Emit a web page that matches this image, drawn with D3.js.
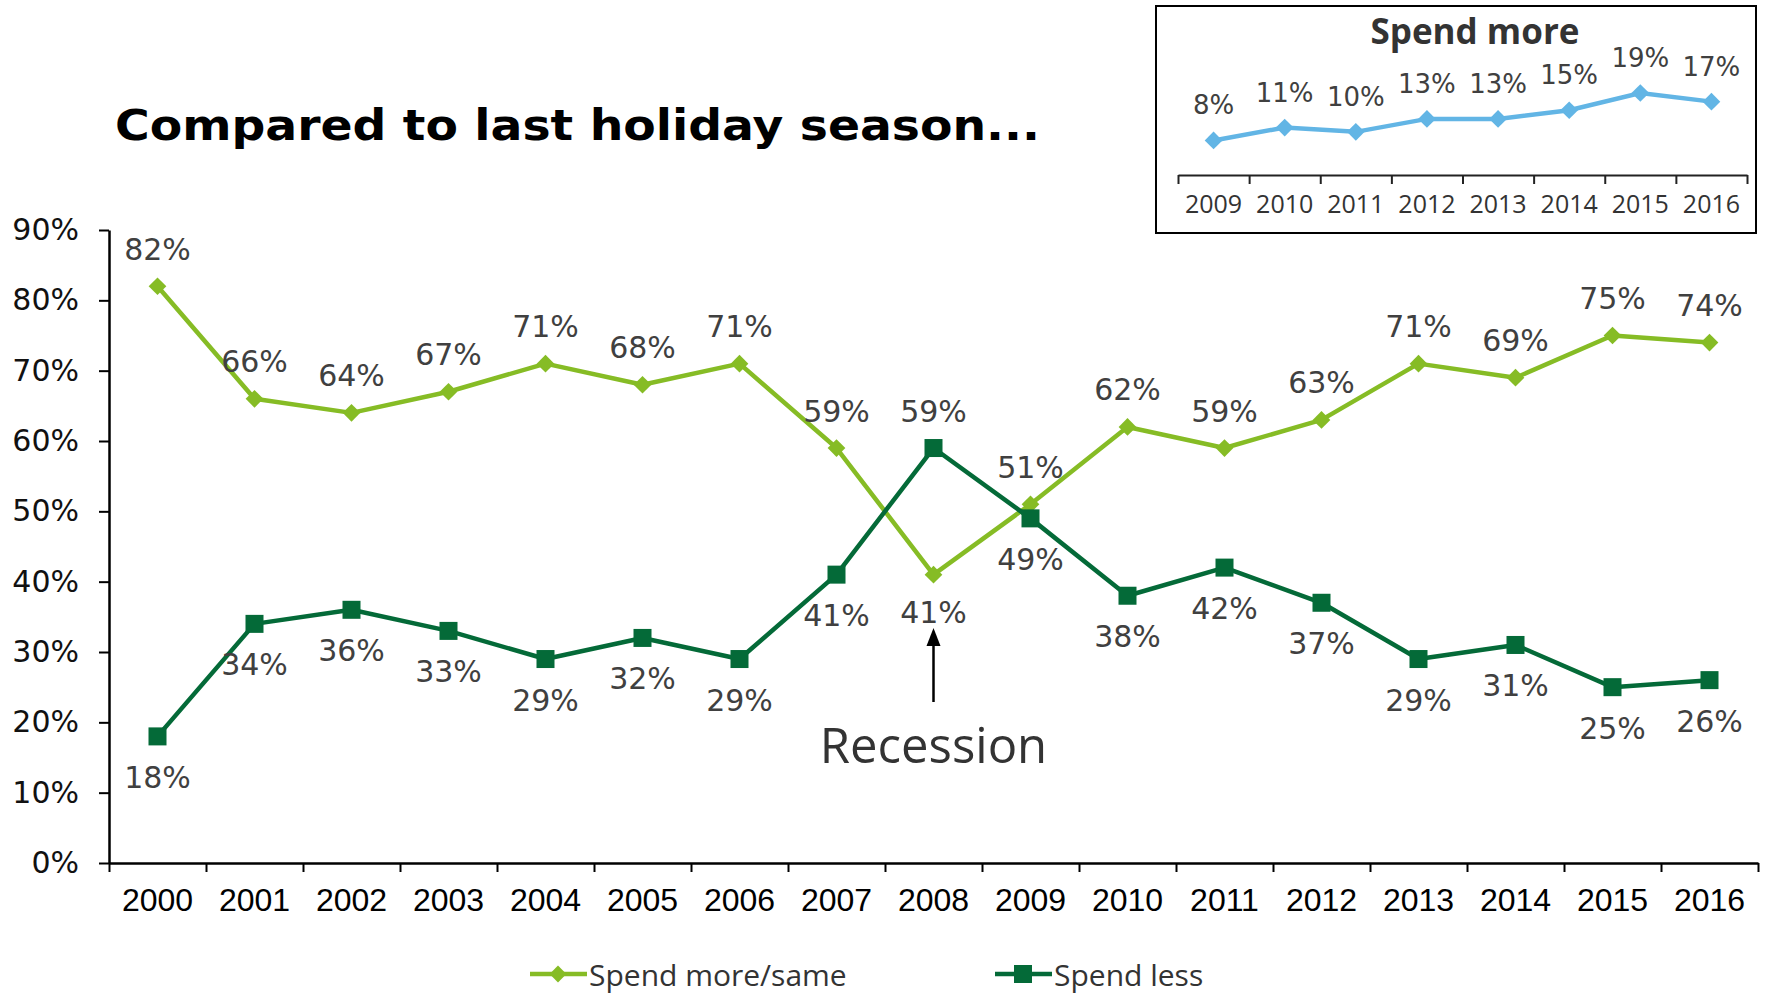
<!DOCTYPE html>
<html>
<head>
<meta charset="utf-8">
<script src="https://cdn.jsdelivr.net/npm/d3@7"></script>
<style>
  body { margin: 0; background: #fff; }
  svg { display: block; }
</style>
</head>
<body>
<script>
const years = ["2000","2001","2002","2003","2004","2005","2006","2007","2008","2009","2010","2011","2012","2013","2014","2015","2016"];
const spendMoreSame = [82, 66, 64, 67, 71, 68, 71, 59, 41, 51, 62, 59, 63, 71, 69, 75, 74];
const spendLess = [18, 34, 36, 33, 29, 32, 29, 41, 59, 49, 38, 42, 37, 29, 31, 25, 26];
// which labels go on the other side of the point
const moreBelow = ["2008"];
const lessAbove = ["2008"];

const insetYears = ["2009","2010","2011","2012","2013","2014","2015","2016"];
const spendMore = [8, 11, 10, 13, 13, 15, 19, 17];

const yTicks = [0, 10, 20, 30, 40, 50, 60, 70, 80, 90];

const W = 1765, H = 997;
const lightGreen = "#86BC25", darkGreen = "#046A38", blue = "#62B5E5";

const svg = d3.select("body").append("svg").attr("width", W).attr("height", H);

// title
svg.append("text")
  .attr("x", 115).attr("y", 140)
  .attr("font-family", "DejaVu Sans").attr("font-weight", "bold")
  .attr("font-size", 42).attr("fill", "#000")
  .attr("textLength", 925).attr("lengthAdjust", "spacingAndGlyphs")
  .text("Compared to last holiday season...");

// main chart
const plotLeft = 109, plotRight = 1758, plotTop = 230, plotBottom = 863;

const x = d3.scaleBand().domain(years).range([plotLeft, plotRight]);
const xEdge = d3.scaleLinear().domain([0, years.length]).range([plotLeft, plotRight]);
const y = d3.scaleLinear().domain([0, 90]).range([plotBottom, plotTop]);
const cx = i => x(years[i]) + x.bandwidth() / 2;

const yAxis = svg.append("g")
  .attr("transform", `translate(${plotLeft},0)`)
  .call(d3.axisLeft(y).tickValues(yTicks).tickFormat(d => d + "%").tickSize(10).tickSizeOuter(0));
yAxis.select(".domain").attr("stroke", "#000").attr("stroke-width", 2.5);
yAxis.selectAll(".tick line").attr("stroke", "#000").attr("stroke-width", 2);
yAxis.selectAll(".tick text")
  .attr("x", -30)
  .attr("font-family", "DejaVu Sans").attr("font-size", 30).attr("fill", "#111");

const xTicks = svg.append("g")
  .attr("transform", `translate(0,${plotBottom})`)
  .call(d3.axisBottom(xEdge).tickValues(d3.range(years.length + 1)).tickFormat("").tickSize(9).tickSizeOuter(0));
xTicks.select(".domain").attr("stroke", "#000").attr("stroke-width", 2.5);
xTicks.selectAll(".tick line").attr("stroke", "#000").attr("stroke-width", 2);

const xAxis = svg.append("g")
  .attr("transform", `translate(0,${plotBottom})`)
  .call(d3.axisBottom(x).tickSize(0).tickPadding(25));
xAxis.select(".domain").remove();
xAxis.selectAll(".tick text")
  .attr("font-family", "Liberation Sans").attr("font-size", 32).attr("fill", "#000");

const line = d3.line().x((d, i) => cx(i)).y(d => y(d));

// spend more/same
svg.append("path").datum(spendMoreSame)
  .attr("d", line).attr("fill", "none")
  .attr("stroke", lightGreen).attr("stroke-width", 4.5).attr("stroke-linejoin", "round");
svg.append("g").selectAll("path").data(spendMoreSame).join("path")
  .attr("d", d3.symbol(d3.symbolDiamond2, 200)())
  .attr("transform", (d, i) => `translate(${cx(i)},${y(d)})`)
  .attr("fill", lightGreen);

// spend less
svg.append("path").datum(spendLess)
  .attr("d", line).attr("fill", "none")
  .attr("stroke", darkGreen).attr("stroke-width", 4.5).attr("stroke-linejoin", "round");
svg.append("g").selectAll("rect").data(spendLess).join("rect")
  .attr("x", (d, i) => cx(i) - 9)
  .attr("y", d => y(d) - 9)
  .attr("width", 18).attr("height", 18)
  .attr("fill", darkGreen);

const labelFont = sel => sel
  .attr("font-family", "DejaVu Sans").attr("font-size", 30).attr("fill", "#404040")
  .attr("text-anchor", "middle").attr("dominant-baseline", "central");

svg.append("g").selectAll("text").data(spendMoreSame).join("text")
  .attr("x", (d, i) => cx(i))
  .attr("y", (d, i) => y(d) + (moreBelow.includes(years[i]) ? 38 : -37))
  .call(labelFont)
  .text(d => d + "%");

svg.append("g").selectAll("text").data(spendLess).join("text")
  .attr("x", (d, i) => cx(i))
  .attr("y", (d, i) => y(d) + (lessAbove.includes(years[i]) ? -37 : 41))
  .call(labelFont)
  .text(d => d + "%");

// recession annotation
const rx = cx(years.indexOf("2008"));
svg.append("line")
  .attr("x1", rx).attr("x2", rx).attr("y1", 702).attr("y2", 640)
  .attr("stroke", "#000").attr("stroke-width", 2.5);
svg.append("path")
  .attr("d", d3.line()([[rx, 628], [rx - 7, 646], [rx + 7, 646]]) + "Z")
  .attr("fill", "#000");
svg.append("text")
  .attr("x", rx).attr("y", 763)
  .attr("text-anchor", "middle")
  .attr("font-family", "Open Sans").attr("font-size", 49).attr("fill", "#333")
  .text("Recession");

// legend
const legend = [
  { name: "Spend more/same", color: lightGreen, x: 530, shape: "diamond" },
  { name: "Spend less", color: darkGreen, x: 995, shape: "square" }
];
const lg = svg.append("g").selectAll("g").data(legend).join("g")
  .attr("transform", d => `translate(${d.x},974)`);
lg.append("line").attr("x1", 0).attr("x2", 57).attr("stroke", d => d.color).attr("stroke-width", 4.5);
lg.filter(d => d.shape === "diamond").append("path")
  .attr("d", d3.symbol(d3.symbolDiamond2, 180)())
  .attr("transform", "translate(28,0)")
  .attr("fill", d => d.color);
lg.filter(d => d.shape === "square").append("rect")
  .attr("x", 19).attr("y", -9).attr("width", 18).attr("height", 18)
  .attr("fill", d => d.color);
lg.append("text")
  .attr("x", 59).attr("y", 0).attr("dominant-baseline", "central")
  .attr("font-family", "Open Sans").attr("font-size", 30).attr("fill", "#333")
  .text(d => d.name);

// inset
const inset = svg.append("g");
inset.append("rect")
  .attr("x", 1156).attr("y", 6).attr("width", 600).attr("height", 227)
  .attr("fill", "#fff").attr("stroke", "#000").attr("stroke-width", 2);
inset.append("text")
  .attr("x", 1475).attr("y", 30)
  .attr("text-anchor", "middle").attr("dominant-baseline", "central")
  .attr("font-family", "Open Sans").attr("font-weight", "bold")
  .attr("font-size", 35).attr("fill", "#333")
  .text("Spend more");

const ix = d3.scaleBand().domain(insetYears).range([1178, 1747]);
const ixEdge = d3.scaleLinear().domain([0, insetYears.length]).range([1178, 1747]);
const iy = d3.scaleLinear().domain([0, 19]).range([175, 93]);
const icx = i => ix(insetYears[i]) + ix.bandwidth() / 2;

const iTicks = inset.append("g")
  .attr("transform", "translate(0,175)")
  .call(d3.axisBottom(ixEdge).tickValues(d3.range(insetYears.length + 1)).tickFormat("").tickSize(9).tickSizeOuter(0));
iTicks.select(".domain").attr("stroke", "#222").attr("stroke-width", 2);
iTicks.selectAll(".tick line").attr("stroke", "#222").attr("stroke-width", 2);

const iAxis = inset.append("g")
  .attr("transform", "translate(0,175)")
  .call(d3.axisBottom(ix).tickSize(0).tickPadding(20));
iAxis.select(".domain").remove();
iAxis.selectAll(".tick text")
  .attr("font-family", "Open Sans").attr("font-size", 25).attr("fill", "#333");

const iline = d3.line().x((d, i) => icx(i)).y(d => iy(d));
inset.append("path").datum(spendMore)
  .attr("d", iline).attr("fill", "none")
  .attr("stroke", blue).attr("stroke-width", 4.5);
inset.append("g").selectAll("path").data(spendMore).join("path")
  .attr("d", d3.symbol(d3.symbolDiamond2, 200)())
  .attr("transform", (d, i) => `translate(${icx(i)},${iy(d)})`)
  .attr("fill", blue);
inset.append("g").selectAll("text").data(spendMore).join("text")
  .attr("x", (d, i) => icx(i))
  .attr("y", d => iy(d) - 35)
  .attr("text-anchor", "middle").attr("dominant-baseline", "central")
  .attr("font-family", "DejaVu Sans").attr("font-size", 26).attr("fill", "#404040")
  .text(d => d + "%");
</script>
</body>
</html>
